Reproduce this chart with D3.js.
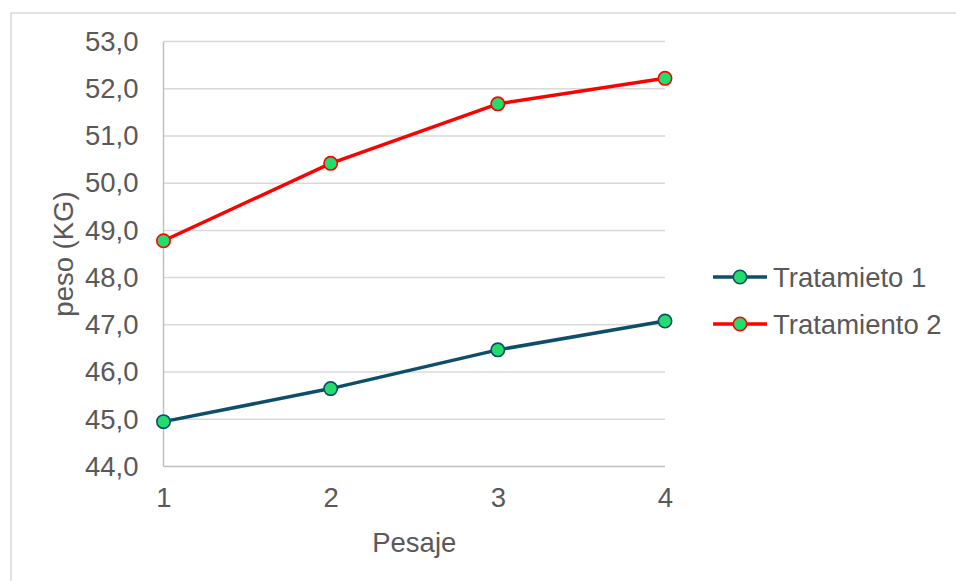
<!DOCTYPE html>
<html>
<head>
<meta charset="utf-8">
<script src="https://cdn.jsdelivr.net/npm/d3@7/dist/d3.min.js"></script>
<style>
  html, body { margin: 0; padding: 0; background: #fff; }
  svg { display: block; }
  text { font-family: "Liberation Sans", Arial, sans-serif; fill: #595959; }
</style>
</head>
<body>
<svg id="chart" width="956" height="581"></svg>
<script>
// Weighing sessions and body weight (kg) per treatment
const pesajes = [1, 2, 3, 4];
const tratamiento1 = [44.95, 45.65, 46.47, 47.08];
const tratamiento2 = [48.78, 50.42, 51.68, 52.22];
const seriesNames = ["Tratamieto 1", "Tratamiento 2"];
const yTicks = [44, 45, 46, 47, 48, 49, 50, 51, 52, 53];

(function () {
  const series = [
    { name: seriesNames[0], values: tratamiento1, color: "#0d4f68" },
    { name: seriesNames[1], values: tratamiento2, color: "#ff0000" }
  ];
  const markerFill = "#22dd6d";

  const svg = d3.select("#chart");

  // Chart frame
  svg.append("rect")
    .attr("x", 11).attr("y", 13)
    .attr("width", 960).attr("height", 600)
    .attr("fill", "none")
    .attr("stroke", "#d9d9d9")
    .attr("stroke-width", 1.5);

  const plotLeft = 163.5, plotRight = 665, plotTop = 41.5, plotBottom = 466.5;

  const x = d3.scaleLinear().domain([1, 4]).range([plotLeft, plotRight]);
  const y = d3.scaleLinear().domain([44, 53]).range([plotBottom, plotTop]);

  // Horizontal gridlines
  svg.append("g")
    .selectAll("line")
    .data(yTicks.slice(1))
    .join("line")
    .attr("x1", plotLeft).attr("x2", plotRight)
    .attr("y1", d => y(d)).attr("y2", d => y(d))
    .attr("stroke", "#d9d9d9")
    .attr("stroke-width", 1.5);

  // Axis lines
  svg.append("line")
    .attr("x1", plotLeft).attr("x2", plotLeft)
    .attr("y1", plotTop).attr("y2", plotBottom)
    .attr("stroke", "#bfbfbf").attr("stroke-width", 1.5);
  svg.append("line")
    .attr("x1", plotLeft).attr("x2", plotRight)
    .attr("y1", plotBottom).attr("y2", plotBottom)
    .attr("stroke", "#bfbfbf").attr("stroke-width", 1.5);

  const fontFamily = "'Liberation Sans', Arial, sans-serif";
  const fontSize = "27.5px";

  // Y axis tick labels
  const fmt = d => d.toFixed(1).replace(".", ",");
  const yAxis = d3.axisLeft(y).tickValues(yTicks).tickFormat(fmt).tickSize(0).tickPadding(25);
  const gy = svg.append("g").attr("transform", `translate(${plotLeft},0)`).call(yAxis);
  gy.select(".domain").remove();
  gy.selectAll("text")
    .attr("font-size", fontSize)
    .attr("fill", "#595959")
    .attr("font-family", fontFamily);

  // X axis tick labels
  const xAxis = d3.axisBottom(x).tickValues(pesajes).tickFormat(d3.format("d")).tickSize(0).tickPadding(21);
  const gx = svg.append("g").attr("transform", `translate(0,${plotBottom})`).call(xAxis);
  gx.select(".domain").remove();
  gx.selectAll("text")
    .attr("font-size", fontSize)
    .attr("fill", "#595959")
    .attr("font-family", fontFamily);

  // Axis titles
  svg.append("text")
    .attr("x", (plotLeft + plotRight) / 2)
    .attr("y", 552)
    .attr("text-anchor", "middle")
    .attr("font-size", fontSize)
    .text("Pesaje");

  svg.append("text")
    .attr("transform", "translate(73,254) rotate(-90)")
    .attr("text-anchor", "middle")
    .attr("font-size", fontSize)
    .text("peso (KG)");

  // Series lines and markers
  const line = d3.line()
    .x((d, i) => x(pesajes[i]))
    .y(d => y(d));

  series.forEach(s => {
    svg.append("path")
      .datum(s.values)
      .attr("d", line)
      .attr("fill", "none")
      .attr("stroke", s.color)
      .attr("stroke-width", 3.5)
      .attr("stroke-linejoin", "round");

    svg.append("g")
      .selectAll("circle")
      .data(s.values)
      .join("circle")
      .attr("cx", (d, i) => x(pesajes[i]))
      .attr("cy", d => y(d))
      .attr("r", 6.7)
      .attr("fill", markerFill)
      .attr("stroke", s.color)
      .attr("stroke-width", 1.6);
  });

  // Legend
  const legend = svg.append("g");
  const legendRows = [277, 324];
  series.forEach((s, i) => {
    const ly = legendRows[i];
    legend.append("line")
      .attr("x1", 713).attr("x2", 767)
      .attr("y1", ly).attr("y2", ly)
      .attr("stroke", s.color)
      .attr("stroke-width", 3.5);
    legend.append("circle")
      .attr("cx", 740).attr("cy", ly)
      .attr("r", 6.7)
      .attr("fill", markerFill)
      .attr("stroke", s.color)
      .attr("stroke-width", 1.6);
    legend.append("text")
      .attr("x", 773).attr("y", ly)
      .attr("dy", "0.36em")
      .attr("font-size", fontSize)
      .text(s.name);
  });
})();
</script>
</body>
</html>
